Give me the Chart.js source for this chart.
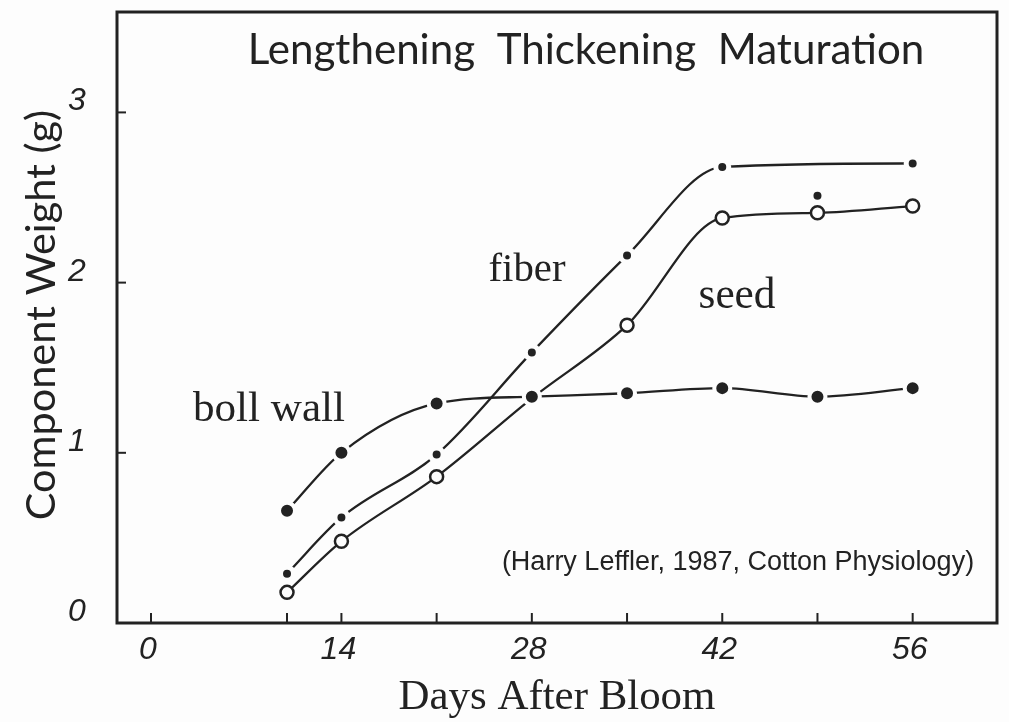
<!DOCTYPE html>
<html>
<head>
<meta charset="utf-8">
<script src="https://cdn.jsdelivr.net/npm/chart.js@4/dist/chart.umd.min.js"></script>
<style>
  html, body { margin: 0; padding: 0; background: #fdfdfd; }
  #wrap { width: 1009px; height: 722px; }
</style>
</head>
<body>
<div id="wrap"><canvas id="chart" width="1009" height="722"></canvas></div>
<script>
// data (days after bloom / grams)
const days = [10, 14, 21, 28, 35, 42, 49, 56];
const bollWall = [0.66, 1.00, 1.29, 1.33, 1.35, 1.38, 1.33, 1.38];
const seed = [0.18, 0.48, 0.86, 1.32, 1.75, 2.38, 2.41, 2.45];
const fiberDays = [10, 14, 21, 28, 35, 42, 56];
const fiber = [0.29, 0.62, 0.99, 1.59, 2.16, 2.68, 2.70];
const fiberExtraDays = [49];
const fiberExtra = [2.51];

const xTickMarks = [0, 10, 14, 21, 28, 35, 42, 49, 56];
const xTickLabels = ["0", "14", "28", "42", "56"];
const yTickMarks = [1, 2, 3];
const yTickLabels = ["0", "1", "2", "3"];

const ink = "#222";

function pts(xs, ys) {
  return xs.map((x, i) => ({ x: x, y: ys[i] }));
}

// write text stretched/shrunk so it covers a given width
function fitText(ctx, text, cx, cy, width, style, family) {
  ctx.font = style + " 40px " + family;
  let w = ctx.measureText(text).width;
  let size = 40 * width / w;
  ctx.font = style + " " + size.toFixed(1) + "px " + family;
  ctx.fillText(text, cx, cy);
}

const decor = {
  id: "decor",
  afterDraw(chart) {
    let ctx = chart.ctx;
    let a = chart.chartArea;
    let xs = chart.scales.x, ys = chart.scales.y;
    ctx.save();

    // frame
    ctx.strokeStyle = ink;
    ctx.lineWidth = 3;
    ctx.strokeRect(a.left, a.top, a.right - a.left, a.bottom - a.top);

    // inward tick marks
    ctx.lineWidth = 2;
    xTickMarks.forEach(v => {
      let px = xs.getPixelForValue(v);
      ctx.beginPath();
      ctx.moveTo(px, a.bottom);
      ctx.lineTo(px, a.bottom - 10);
      ctx.stroke();
    });
    yTickMarks.forEach(v => {
      let py = ys.getPixelForValue(v);
      ctx.beginPath();
      ctx.moveTo(a.left, py);
      ctx.lineTo(a.left + 9, py);
      ctx.stroke();
    });

    ctx.fillStyle = ink;
    ctx.textAlign = "center";
    ctx.textBaseline = "middle";

    // tick labels
    ctx.font = "italic 32px 'Liberation Sans'";
    xTickLabels.forEach(t => {
      ctx.fillText(t, xs.getPixelForValue(Number(t)) - 3, a.bottom + 27);
    });
    yTickLabels.forEach(t => {
      ctx.fillText(t, a.left - 40, ys.getPixelForValue(Number(t)) - 11);
    });

    // axis titles
    fitText(ctx, "Days After Bloom", 557, 698, 317, "", "'Liberation Serif'");
    ctx.save();
    ctx.translate(42, 315);
    ctx.rotate(-Math.PI / 2);
    fitText(ctx, "Component Weight (g)", 0, 0, 410, "", "Lato");
    ctx.restore();

    // stage labels and series labels
    fitText(ctx, "Lengthening  Thickening  Maturation", 586, 50, 677, "", "Lato");
    fitText(ctx, "fiber", 527, 270, 77, "", "'Liberation Serif'");
    fitText(ctx, "seed", 737, 297, 77, "", "'Liberation Serif'");
    fitText(ctx, "boll wall", 269, 410, 152, "", "'Liberation Serif'");
    fitText(ctx, "(Harry Leffler, 1987, Cotton Physiology)", 738, 563, 473, "", "'Liberation Sans Narrow', 'Liberation Sans'");

    ctx.restore();
  }
};

new Chart(document.getElementById("chart"), {
  type: "line",
  data: {
    datasets: [
      {
        label: "fiber (49 d)",
        data: pts(fiberExtraDays, fiberExtra),
        showLine: false,
        pointStyle: "circle",
        pointRadius: 4,
        pointBackgroundColor: ink,
        pointBorderColor: ink,
        pointBorderWidth: 0
      },
      {
        label: "boll wall",
        data: pts(days, bollWall),
        borderColor: ink,
        borderWidth: 2.3,
        cubicInterpolationMode: "monotone",
        pointRadius: 8,
        pointBackgroundColor: ink,
        pointBorderColor: "#fdfdfd",
        pointBorderWidth: 4
      },
      {
        label: "fiber",
        data: pts(fiberDays, fiber),
        borderColor: ink,
        borderWidth: 2.3,
        cubicInterpolationMode: "monotone",
        pointRadius: 6.5,
        pointBackgroundColor: ink,
        pointBorderColor: "#fdfdfd",
        pointBorderWidth: 5
      },
      {
        label: "seed",
        data: pts(days, seed),
        borderColor: ink,
        borderWidth: 2.3,
        cubicInterpolationMode: "monotone",
        pointRadius: 6.5,
        pointBackgroundColor: "#fdfdfd",
        pointBorderColor: ink,
        pointBorderWidth: 2.5
      }
    ]
  },
  options: {
    responsive: false,
    animation: false,
    layout: { padding: { left: 117, top: 12, right: 9, bottom: 99 } },
    plugins: { legend: { display: false }, tooltip: { enabled: false } },
    scales: {
      x: { type: "linear", min: -2.5, max: 62.2, display: false },
      y: { min: 0, max: 3.59, display: false }
    }
  },
  plugins: [decor]
});
</script>
</body>
</html>
